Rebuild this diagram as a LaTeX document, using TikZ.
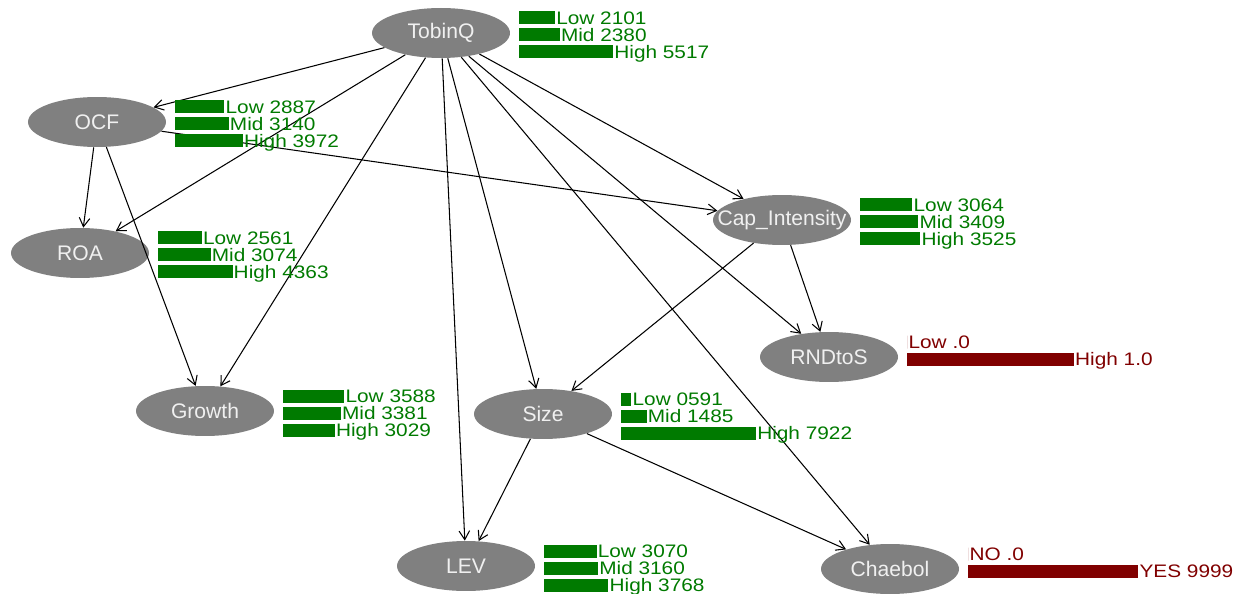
\documentclass[tikz,border=0pt]{standalone}
\usepackage{fontspec}
\setmainfont{Liberation Sans}
\newfontfamily\barfont[FakeStretch=1.15]{Liberation Sans}
\usetikzlibrary{shapes.geometric,arrows.meta}

\definecolor{vargray}{RGB}{128,128,128}
\definecolor{stgreen}{RGB}{0,122,0}
\definecolor{stred}{RGB}{128,0,0}

\tikzset{
  var/.style={ellipse, fill=vargray, text=white!94!black, minimum width=2.76cm,
    minimum height=1cm, inner xsep=-9pt, inner ysep=0pt,
    font=\fontsize{12}{14}\selectfont},
  edge/.style={line width=0.6pt, -{Straight Barb[length=5pt,width=6pt]}},
  bartext/.style={inner sep=0.5pt, anchor=base west, font=\barfont\fontsize{10.3}{12}\selectfont}
}

% bars of a node: #1 node, #2 colour, #3 label/fraction list
\newcommand\barstates[3]{%
  \begin{scope}[shift={(#1.east)}]
    \foreach \lab/\w [count=\i] in {#3} {
      \fill[#2] (9,-38.5+17*\i) rectangle (9+170*\w,-25.5+17*\i);
      \node[bartext, text=#2] (#1-s\i) at (9+170*\w,-25.5+17*\i) {\lab};
    }
  \end{scope}}

\begin{document}
\begin{tikzpicture}[x=0.02cm, y=-0.02cm]
  \useasboundingbox (0,0) rectangle (1243,594);
  \node[var] (TobinQ)  at (441,33)  {TobinQ};
  \node[var] (OCF)     at (97,122)  {OCF};
  \node[var] (ROA)     at (80,253)  {ROA};
  \node[var] (Cap)     at (782,220) {Cap\_Intensity};
  \node[var] (RNDtoS)  at (829,357) {RNDtoS};
  \node[var] (Growth)  at (205,411) {Growth};
  \node[var] (Size)    at (543,414) {Size};
  \node[var] (LEV)     at (466,566) {LEV};
  \node[var] (Chaebol) at (890,569) {Chaebol};

  \draw[edge] (TobinQ) -- (OCF);
  \draw[edge] (TobinQ) -- (ROA);
  \draw[edge] (TobinQ) -- (Growth);
  \draw[edge] (TobinQ) -- (LEV);
  \draw[edge] (TobinQ) -- (Size);
  \draw[edge] (TobinQ) -- (Chaebol);
  \draw[edge] (TobinQ) -- (RNDtoS);
  \draw[edge] (TobinQ) -- (Cap);
  \draw[edge] (OCF)    -- (ROA);
  \draw[edge] (OCF)    -- (Growth);
  \draw[edge] (OCF)    -- (Cap);
  \draw[edge] (Cap)    -- (RNDtoS);
  \draw[edge] (Cap)    -- (Size);
  \draw[edge] (Size)   -- (LEV);
  \draw[edge] (Size)   -- (Chaebol);

  \barstates{TobinQ}{stgreen}{Low 2101/0.2101, Mid 2380/0.2380, High 5517/0.5517}
  \barstates{OCF}{stgreen}{Low 2887/0.2887, Mid 3140/0.3140, High 3972/0.3972}
  \barstates{ROA}{stgreen}{Low 2561/0.2561, Mid 3074/0.3074, High 4363/0.4363}
  \barstates{Cap}{stgreen}{Low 3064/0.3064, Mid 3409/0.3409, High 3525/0.3525}
  \barstates{RNDtoS}{stred}{Low .0/0, High 1.0/0.98}
  \barstates{Growth}{stgreen}{Low 3588/0.3588, Mid 3381/0.3381, High 3029/0.3029}
  \barstates{Size}{stgreen}{Low 0591/0.0591, Mid 1485/0.1485, High 7922/0.7922}
  \barstates{LEV}{stgreen}{Low 3070/0.3070, Mid 3160/0.3160, High 3768/0.3768}
  \barstates{Chaebol}{stred}{NO .0/0, YES 9999/0.9999}
\end{tikzpicture}
\end{document}
